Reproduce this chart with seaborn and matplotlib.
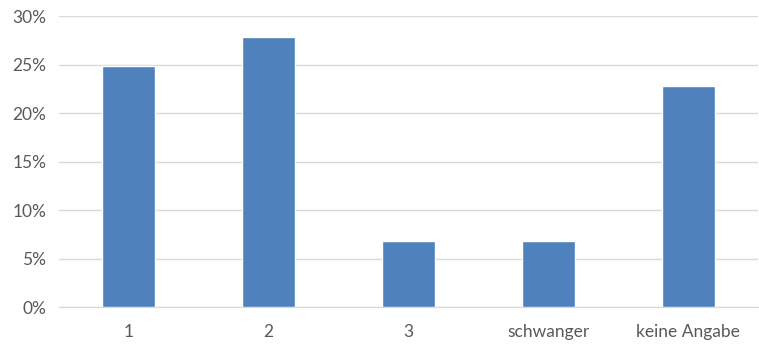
import matplotlib
matplotlib.use("Agg")
import matplotlib.pyplot as plt
import seaborn as sns
import pandas as pd
from matplotlib.ticker import PercentFormatter, FixedLocator

sns.set_style("white")
plt.rcParams['font.family'] = ['Lato', 'DejaVu Sans']

categories = ['1', '2', '3', 'schwanger', 'keine Angabe']
shares = [24.8, 27.8, 6.8, 6.8, 22.8]

df = pd.DataFrame({'kategorie': categories, 'anteil': shares})

fig = plt.figure(figsize=(7.59, 3.45), dpi=100)
ax = fig.add_axes([0.0777, 0.110, 0.921, 0.8436])

sns.barplot(data=df, x='kategorie', y='anteil', color='#4F81BD', saturation=1,
            width=0.38, ax=ax, zorder=3)

ax.set_ylim(0, 30)
ax.set_xlim(-0.5, len(categories) - 0.5)
ax.yaxis.set_major_formatter(PercentFormatter(decimals=0))
ax.set_yticks(range(0, 31, 5))
ax.grid(axis='y', color='#D9D9D9', linewidth=1, zorder=0)

# category boundary ticks like Excel
ax.xaxis.set_minor_locator(FixedLocator([i - 0.5 for i in range(len(categories) + 1)]))
ax.tick_params(axis='x', which='major', length=0, pad=12, labelsize=12.5, labelcolor='#595959')
ax.tick_params(axis='x', which='minor', length=5, color='#D9D9D9', width=1)
ax.tick_params(axis='y', length=0, pad=9, labelsize=12.5, labelcolor='#595959')

ax.set_xlabel('')
ax.set_ylabel('')
for side in ['top', 'right', 'left']:
    ax.spines[side].set_visible(False)
ax.spines['bottom'].set_color('#D9D9D9')

fig.savefig('out.png', dpi=100)
